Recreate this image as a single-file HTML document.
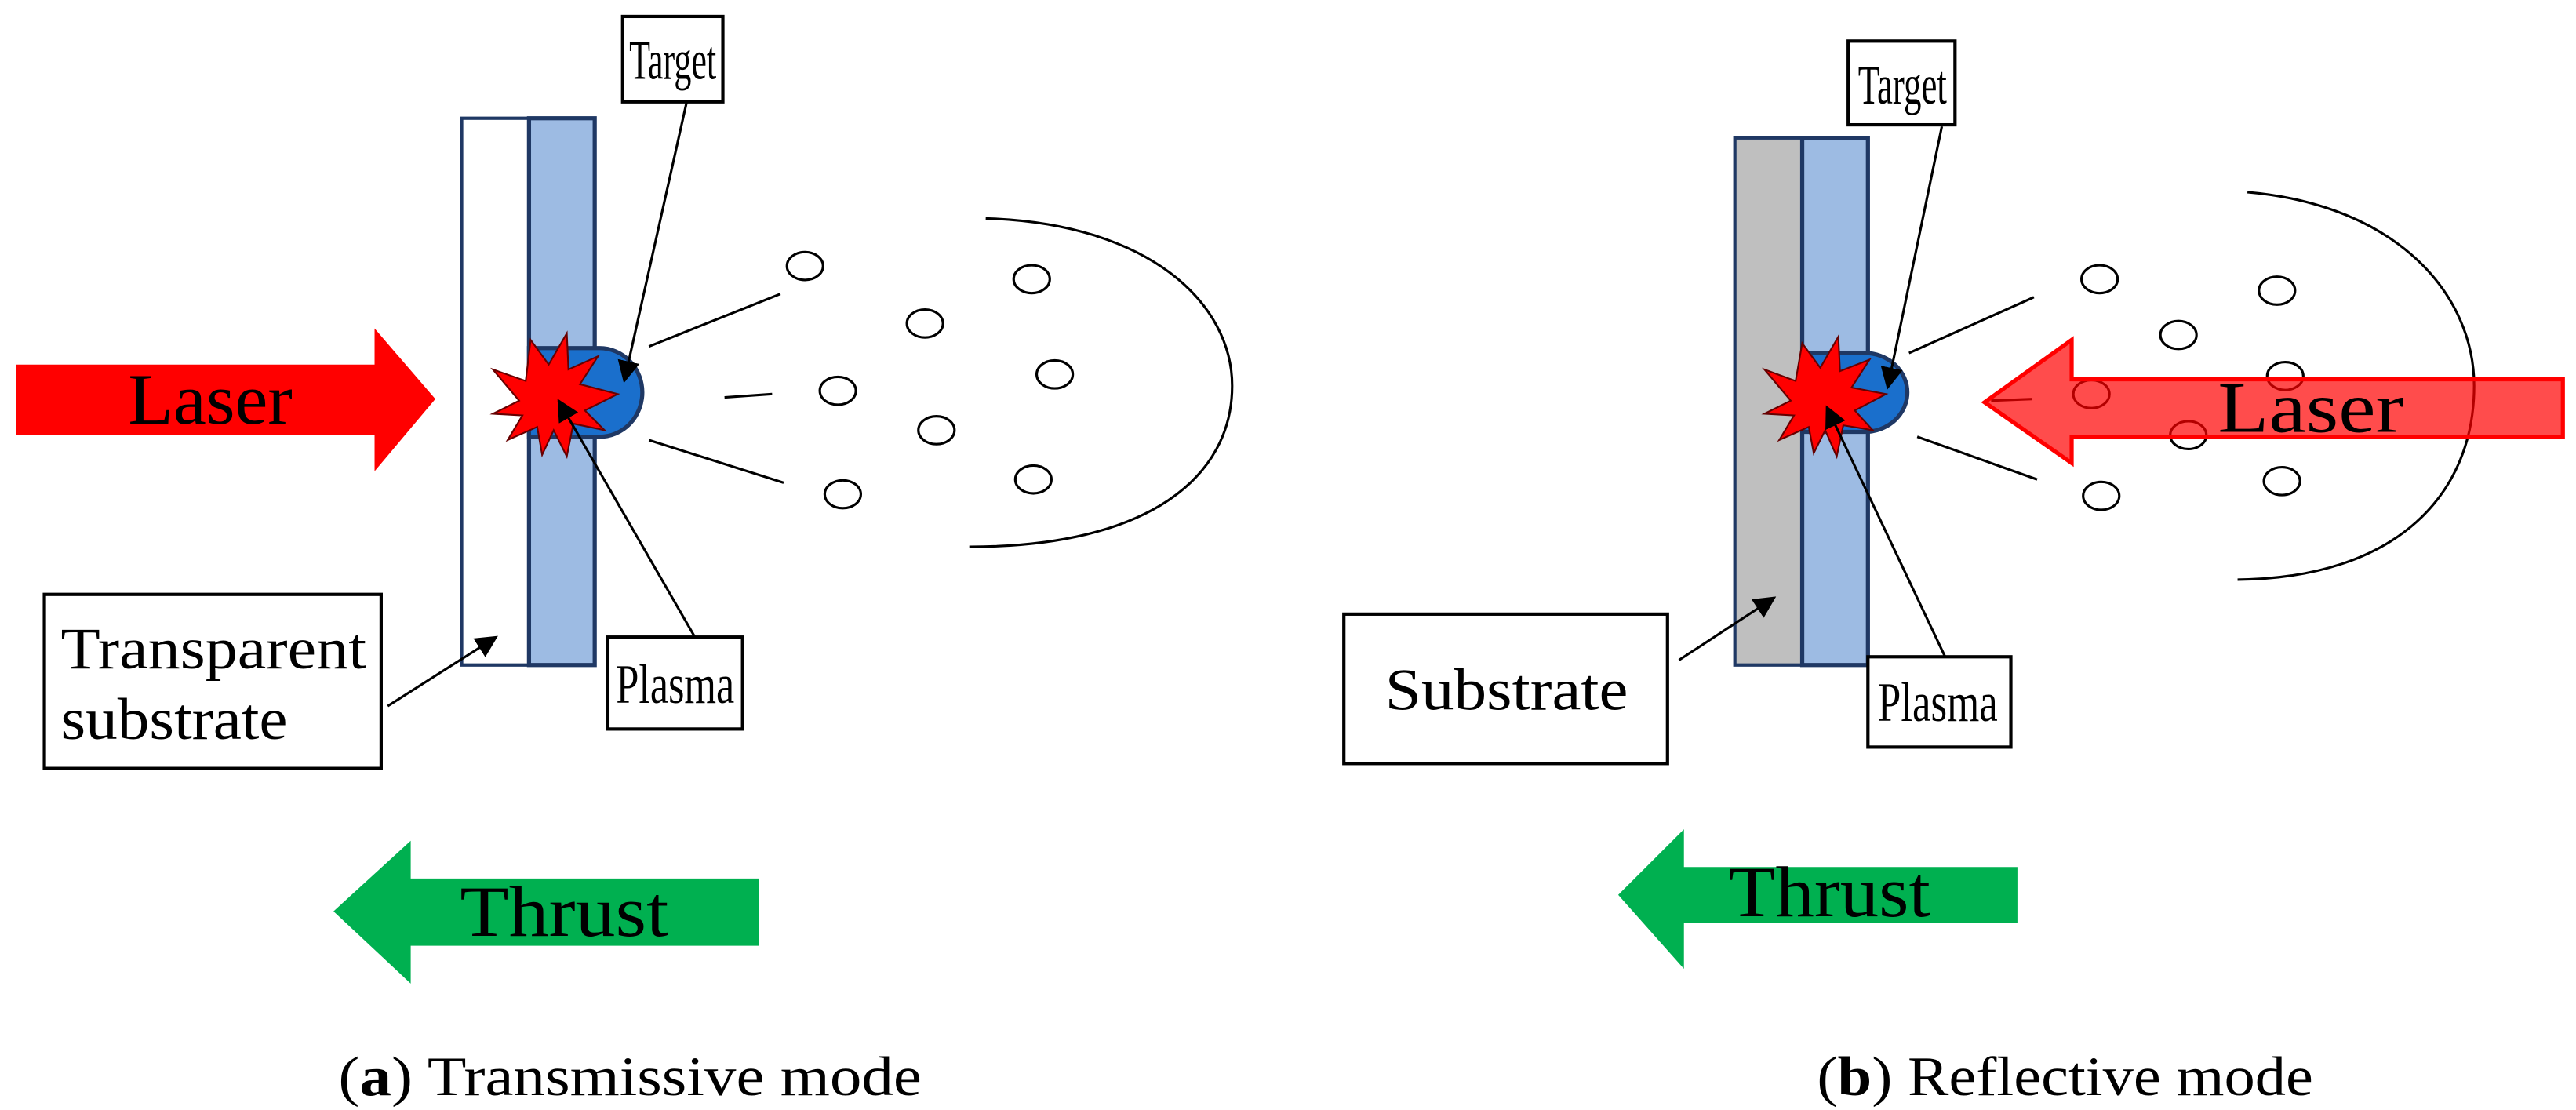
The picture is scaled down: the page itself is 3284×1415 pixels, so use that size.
<!DOCTYPE html>
<html><head><meta charset="utf-8"><style>
html,body{margin:0;padding:0;background:#fff;}
svg{display:block;}
svg text{font-family:"Liberation Serif","Times New Roman",serif;fill:#000;}
</style></head><body>
<svg width="3284" height="1415" viewBox="0 0 1568 676" preserveAspectRatio="none" xmlns="http://www.w3.org/2000/svg" font-family="Liberation Serif, serif">
<defs>
<marker id="ah2" viewBox="0 0 10 10" refX="9" refY="5" markerWidth="9" markerHeight="9" orient="auto">
<path d="M0,0 L10,5 L0,10 z" fill="#000"/>
</marker>
</defs>

<!-- ===== LEFT PANEL ===== -->
<polygon points="10,222 228,222 228,200 265,243 228,287 228,265 10,265" fill="#ff0000"/>
<text x="78" y="258" font-size="44" textLength="100" lengthAdjust="spacingAndGlyphs">Laser</text>

<rect x="281" y="72" width="41" height="333" fill="#fff" stroke="#1f3864" stroke-width="2"/>
<rect x="322" y="72" width="40" height="333" fill="#9dbbe3" stroke="#1f3864" stroke-width="2.5"/>
<path d="M322,212 L365,212 A26,27 0 0 1 365,266 L322,266 z" fill="#1a6fcc" stroke="#1f3864" stroke-width="2.5"/>
<polygon points="300,225 320,232 323,207 334,222 345,203 346,225 364,217 353,234 376,240 356,250 368,262 349,258 345,278 337,262 330,277 327,260 309,268 318,253 300,252 316,244" fill="#ff0000" stroke="#600" stroke-width="1"/>

<rect x="379" y="10" width="61" height="52" fill="#fff" stroke="#000" stroke-width="2"/>
<text x="383" y="48" font-size="34" textLength="53" lengthAdjust="spacingAndGlyphs">Target</text>
<line x1="418" y1="62" x2="380" y2="232" stroke="#000" stroke-width="1.5" marker-end="url(#ah2)"/>

<rect x="370" y="388" width="82" height="56" fill="#fff" stroke="#000" stroke-width="2"/>
<text x="375" y="428" font-size="34" textLength="72" lengthAdjust="spacingAndGlyphs">Plasma</text>
<line x1="423" y1="388" x2="340" y2="244" stroke="#000" stroke-width="1.5" marker-end="url(#ah2)"/>

<rect x="27" y="362" width="205" height="106" fill="#fff" stroke="#000" stroke-width="2"/>
<text x="37" y="407" font-size="36" textLength="186" lengthAdjust="spacingAndGlyphs">Transparent</text>
<text x="37" y="450" font-size="36" textLength="138" lengthAdjust="spacingAndGlyphs">substrate</text>
<line x1="236" y1="430" x2="302" y2="388" stroke="#000" stroke-width="1.5" marker-end="url(#ah2)"/>

<g stroke="#000" stroke-width="1.5">
<line x1="395" y1="211" x2="475" y2="179"/>
<line x1="441" y1="242" x2="470" y2="240"/>
<line x1="395" y1="268" x2="477" y2="294"/>
</g>
<g fill="#fff" stroke="#000" stroke-width="1.5">
<ellipse cx="490" cy="162" rx="11" ry="8.5"/>
<ellipse cx="563" cy="197" rx="11" ry="8.5"/>
<ellipse cx="628" cy="170" rx="11" ry="8.5"/>
<ellipse cx="510" cy="238" rx="11" ry="8.5"/>
<ellipse cx="642" cy="228" rx="11" ry="8.5"/>
<ellipse cx="570" cy="262" rx="11" ry="8.5"/>
<ellipse cx="513" cy="301" rx="11" ry="8.5"/>
<ellipse cx="629" cy="292" rx="11" ry="8.5"/>
</g>
<path d="M600,133 C700,136 750,185 750,235 C750,290 700,333 590,333" fill="none" stroke="#000" stroke-width="1.5"/>

<polygon points="462,535 250,535 250,512 203,555 250,599 250,576 462,576" fill="#00b050"/>
<text x="280" y="570" font-size="44" textLength="127" lengthAdjust="spacingAndGlyphs">Thrust</text>

<text x="206" y="667" font-size="34" textLength="355" lengthAdjust="spacingAndGlyphs">(<tspan font-weight="bold">a</tspan>) Transmissive mode</text>

<!-- ===== RIGHT PANEL ===== -->
<rect x="1056" y="84" width="41" height="321" fill="#bfbfbf" stroke="#1f3864" stroke-width="2"/>
<rect x="1097" y="84" width="40" height="321" fill="#9dbbe3" stroke="#1f3864" stroke-width="2.5"/>
<path d="M1097,215 L1135,215 A26,24 0 0 1 1135,263 L1097,263 z" fill="#1a6fcc" stroke="#1f3864" stroke-width="2.5"/>
<polygon points="1074,225 1093,232 1097,209 1108,224 1119,205 1120,226 1138,219 1127,236 1148,240 1129,250 1140,262 1122,259 1118,278 1111,262 1104,276 1101,260 1083,268 1092,253 1074,252 1090,244" fill="#ff0000" stroke="#600" stroke-width="1"/>

<rect x="1125" y="25" width="65" height="51" fill="#fff" stroke="#000" stroke-width="2"/>
<text x="1131" y="63" font-size="34" textLength="54" lengthAdjust="spacingAndGlyphs">Target</text>
<line x1="1182" y1="77" x2="1149" y2="236" stroke="#000" stroke-width="1.5" marker-end="url(#ah2)"/>

<rect x="1137" y="400" width="87" height="55" fill="#fff" stroke="#000" stroke-width="2"/>
<text x="1143" y="439" font-size="34" textLength="73" lengthAdjust="spacingAndGlyphs">Plasma</text>
<line x1="1184" y1="400" x2="1112" y2="248" stroke="#000" stroke-width="1.5" marker-end="url(#ah2)"/>

<rect x="818" y="374" width="197" height="91" fill="#fff" stroke="#000" stroke-width="2"/>
<text x="843" y="432" font-size="36" textLength="148" lengthAdjust="spacingAndGlyphs">Substrate</text>
<line x1="1022" y1="402" x2="1080" y2="364" stroke="#000" stroke-width="1.5" marker-end="url(#ah2)"/>

<g stroke="#000" stroke-width="1.5">
<line x1="1162" y1="215" x2="1238" y2="181"/>
<line x1="1212" y1="244" x2="1237" y2="243"/>
<line x1="1167" y1="266" x2="1240" y2="292"/>
</g>
<g fill="#fff" stroke="#000" stroke-width="1.5">
<ellipse cx="1278" cy="170" rx="11" ry="8.5"/>
<ellipse cx="1326" cy="204" rx="11" ry="8.5"/>
<ellipse cx="1386" cy="177" rx="11" ry="8.5"/>
<ellipse cx="1273" cy="240" rx="11" ry="8.5"/>
<ellipse cx="1391" cy="229" rx="11" ry="8.5"/>
<ellipse cx="1332" cy="265" rx="11" ry="8.5"/>
<ellipse cx="1279" cy="302" rx="11" ry="8.5"/>
<ellipse cx="1389" cy="293" rx="11" ry="8.5"/>
</g>
<path d="M1368,117 C1460,125 1506,180 1506,235 C1506,300 1460,352 1362,353" fill="none" stroke="#000" stroke-width="1.5"/>

<polygon points="1560,231 1261,231 1261,207 1208,245 1261,282 1261,266 1560,266" fill="#ff0000" fill-opacity="0.7" stroke="#ff0000" stroke-width="2.5"/>
<text x="1350" y="263" font-size="44" textLength="113" lengthAdjust="spacingAndGlyphs">Laser</text>

<polygon points="1228,528 1025,528 1025,505 985,545 1025,590 1025,562 1228,562" fill="#00b050"/>
<text x="1052" y="558" font-size="44" textLength="123" lengthAdjust="spacingAndGlyphs">Thrust</text>

<text x="1106" y="667" font-size="34" textLength="302" lengthAdjust="spacingAndGlyphs">(<tspan font-weight="bold">b</tspan>) Reflective mode</text>
</svg>
</body></html>
